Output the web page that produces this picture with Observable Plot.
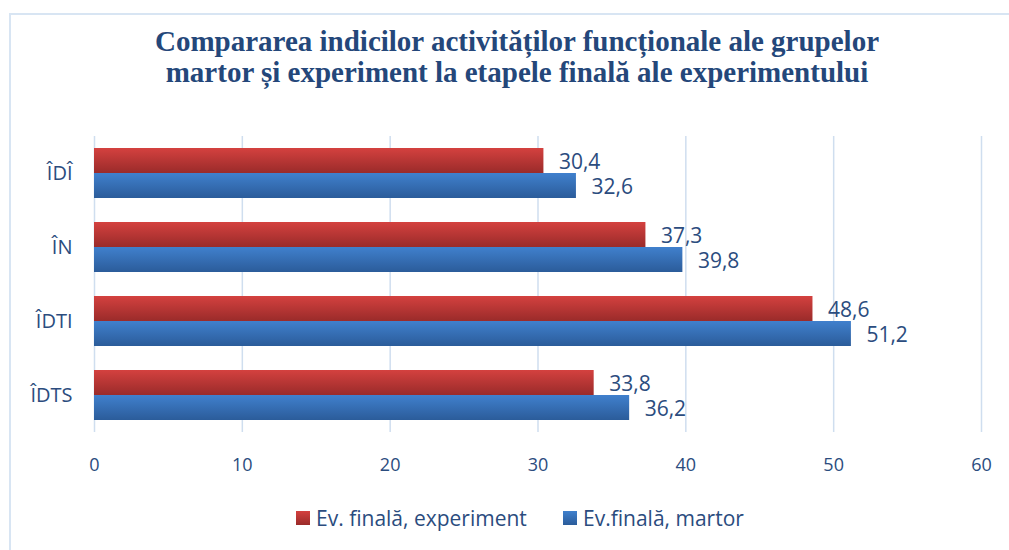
<!DOCTYPE html>
<html>
<head>
<meta charset="utf-8">
<script src="https://cdn.jsdelivr.net/npm/d3@7"></script>
<script src="https://cdn.jsdelivr.net/npm/@observablehq/plot@0.6"></script>
<style>
  html, body { margin: 0; padding: 0; background: #fff; }
  #wrap { position: relative; width: 1009px; height: 550px; overflow: hidden; font-family: "Open Sans", sans-serif; }
  #frame { position: absolute; left: 9px; top: 13px; width: 1100px; height: 600px; border: 2px solid #d8e5f3; box-sizing: border-box; }
  #title { position: absolute; left: 0; width: 1034px; top: 26px; text-align: center; font-family: "Liberation Serif", serif; font-weight: bold; font-size: 29px; line-height: 31px; color: #24477a; }
  #chart { position: absolute; left: 0; top: 110px; }
  #legend { position: absolute; top: 505px; left: 0; width: 1009px; height: 26px; font-size: 21px; color: #2b4c7e; }
  .li { position: absolute; top: 0; display: flex; align-items: center; height: 26px; }
  .sw { width: 14px; height: 14px; margin-right: 6px; }
</style>
</head>
<body>
<div id="wrap">
  <div id="frame"></div>
  <div id="title">Compararea indicilor activităților funcționale ale grupelor<br>martor și experiment la etapele finală ale experimentului</div>
  <div id="chart"></div>
  <div id="legend"></div>
</div>
<script>
const categories = ["ÎDÎ", "ÎN", "ÎDTI", "ÎDTS"];
const seriesNames = ["Ev. finală, experiment", "Ev.finală, martor"];
const experimentValues = [30.4, 37.3, 48.6, 33.8];
const martorValues = [32.6, 39.8, 51.2, 36.2];
const xTicks = [0, 10, 20, 30, 40, 50, 60];

const data = [];
categories.forEach((c, i) => {
  data.push({category: c, series: seriesNames[0], value: experimentValues[i]});
  data.push({category: c, series: seriesNames[1], value: martorValues[i]});
});

const fmt = v => v.toFixed(1).replace(".", ",");
const textColor = "#2b4c7e";

const plot = Plot.plot({
  width: 1009,
  height: 370,
  marginTop: 25,
  marginBottom: 47,
  marginLeft: 94,
  marginRight: 28,
  style: { fontFamily: "Open Sans, sans-serif", fontSize: "18px", color: textColor, background: "transparent" },
  x: { domain: [0, 60], ticks: xTicks, tickSize: 0, tickPadding: 26, label: null, tickFormat: d => String(d) },
  fy: { domain: categories, padding: 0, label: null, axis: null },
  y: { domain: seriesNames, paddingInner: 0, paddingOuter: 0.46, axis: null },
  color: { domain: seriesNames, range: ["url(#gRed)", "url(#gBlue)"] },
  marks: [
    Plot.gridX(xTicks, { stroke: "#cfdeef", strokeOpacity: 1, strokeWidth: 1.5 }),
    Plot.axisFy({ anchor: "left", tickSize: 0, tickPadding: 22, fontSize: 20, label: null }),
    Plot.barX(data, { fy: "category", y: "series", x: "value", fill: "series", style: "filter: drop-shadow(2px 3px 2px rgba(0,0,0,0.35))" }),
    Plot.text(data, { fy: "category", y: "series", x: "value", text: d => fmt(d.value), textAnchor: "start", dx: 15, dy: 1, fill: textColor, fontSize: 21 })
  ]
});

// gradients
const ns = "http://www.w3.org/2000/svg";
const defs = document.createElementNS(ns, "defs");
function grad(id, top, bottom) {
  const g = document.createElementNS(ns, "linearGradient");
  g.setAttribute("id", id);
  g.setAttribute("x1", "0"); g.setAttribute("y1", "0"); g.setAttribute("x2", "0"); g.setAttribute("y2", "1");
  [[0, top], [1, bottom]].forEach(([o, c]) => {
    const s = document.createElementNS(ns, "stop");
    s.setAttribute("offset", o);
    s.setAttribute("stop-color", c);
    g.appendChild(s);
  });
  defs.appendChild(g);
}
grad("gRed", "#d4413f", "#9a2b2a");
grad("gBlue", "#4080cd", "#2b5c9a");
plot.insertBefore(defs, plot.firstChild);

document.getElementById("chart").appendChild(plot);

// legend
const legend = document.getElementById("legend");
const legendPos = [296, 563];
const swatch = ["linear-gradient(#d4413f,#9a2b2a)", "linear-gradient(#4080cd,#2b5c9a)"];
seriesNames.forEach((s, i) => {
  const item = document.createElement("div");
  item.className = "li";
  item.style.left = legendPos[i] + "px";
  const sw = document.createElement("div");
  sw.className = "sw";
  sw.style.background = swatch[i];
  const t = document.createElement("span");
  t.textContent = s;
  item.appendChild(sw); item.appendChild(t);
  legend.appendChild(item);
});
</script>
</body>
</html>
